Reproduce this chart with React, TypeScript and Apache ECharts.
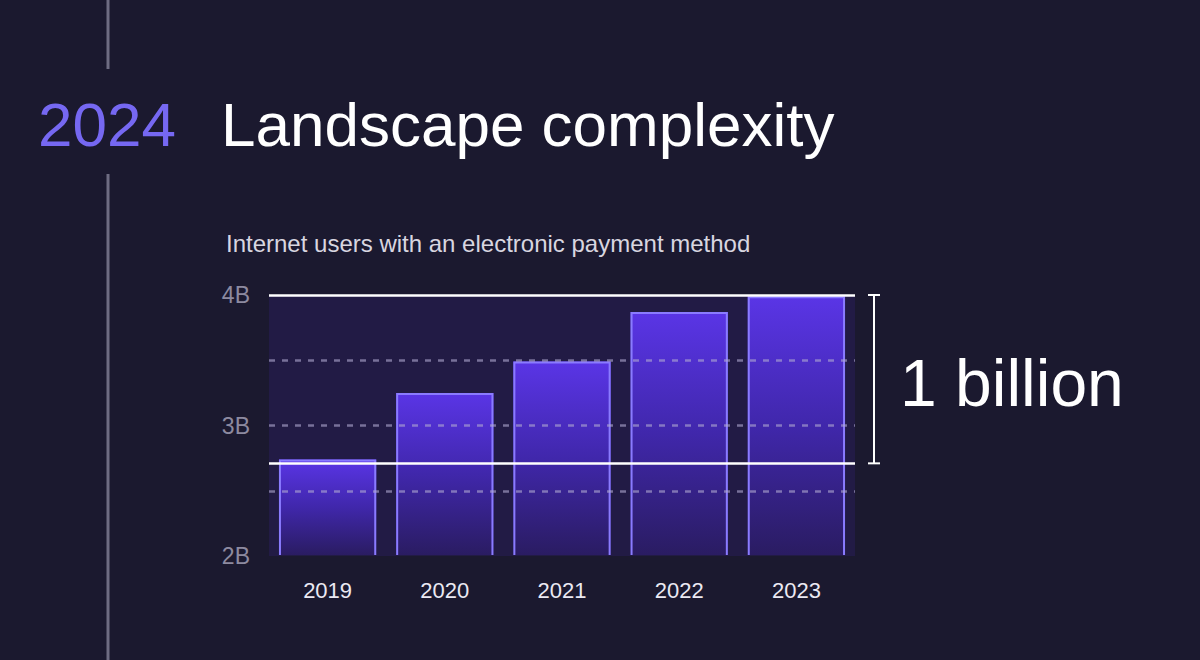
import React, { useEffect, useRef } from "react";
import * as echarts from "echarts";

const years = ["2019", "2020", "2021", "2022", "2023"];
const users = [2.74, 3.25, 3.49, 3.87, 3.99]; // billions
const yMin = 2;
const yMax = 4;
const yStep = 1;
const dashedLevels = [2.5, 3, 3.5];
const bracketLow = 2.71;
const bracketHigh = 4;
const bracketLabel = "1 billion";
const subtitle = "Internet users with an electronic payment method";
const yearLabel = "2024";
const title = "Landscape complexity";

const FONT = "'Liberation Sans', Arial, 'DejaVu Sans', sans-serif";

export default function App() {
  const ref = useRef<HTMLDivElement>(null);
  useEffect(() => {
    const chart = echarts.init(ref.current!, null, { renderer: "svg" });
    const renderItem = (params: any, api: any) => {
      const i = api.value(0);
      const v = api.value(1);
      const top = api.coord([i, v]);
      const base = api.coord([i, yMin]);
      const w = api.size([1, 0])[0] * 0.83;
      const x0 = top[0] - w / 2;
      const x1 = top[0] + w / 2;
      const y0 = top[1];
      const y1 = base[1] - 1;
      return {
        type: "group",
        children: [
          {
            type: "rect",
            shape: { x: x0, y: y0, width: w, height: y1 - y0 },
            style: {
              fill: new echarts.graphic.LinearGradient(0, 0, 0, 1, [
                { offset: 0, color: "#5a35e6" },
                { offset: 0.5, color: "#4027ab" },
                { offset: 1, color: "#2a1c62" },
              ]),
            },
          },
          {
            type: "polyline",
            shape: {
              points: [
                [x0 + 1, y1],
                [x0 + 1, y0 + 1],
                [x1 - 1, y0 + 1],
                [x1 - 1, y1],
              ],
            },
            style: { stroke: "#8a7bff", lineWidth: 2, fill: null },
          },
        ],
      };
    };

    const dashStyle = { type: [6, 7], color: "rgba(178,172,210,0.6)", width: 2.5 };
    const whiteStyle = { type: "solid", color: "#ffffff", width: 2.5 };

    chart.setOption({
      animation: false,
      backgroundColor: "#1b192f",
      grid: {
        left: 269,
        right: 345,
        top: 295,
        bottom: 104,
        show: true,
        backgroundColor: "#221b45",
        borderWidth: 0,
      },
      xAxis: {
        type: "category",
        data: years,
        axisLine: { show: false },
        axisTick: { show: false },
        axisLabel: { color: "#ebe9f3", fontSize: 22, fontFamily: FONT, margin: 23 },
      },
      yAxis: {
        type: "value",
        min: yMin,
        max: yMax,
        interval: yStep,
        splitLine: { show: false },
        axisLine: { show: false },
        axisTick: { show: false },
        axisLabel: {
          formatter: (v: number) => v + "B",
          color: "#8d8aa0",
          fontSize: 23,
          fontFamily: FONT,
          margin: 19,
        },
      },
      series: [
        {
          type: "custom",
          data: users.map((v, i) => [i, v]),
          encode: { x: 0, y: 1 },
          renderItem,
          z: 2,
        },
        {
          type: "line",
          data: [],
          z: 5,
          markLine: {
            silent: true,
            symbol: ["none", "none"],
            label: { show: false },
            data: [
              ...dashedLevels.map((y) => ({ yAxis: y, lineStyle: dashStyle })),
              { yAxis: bracketHigh, lineStyle: whiteStyle },
              { yAxis: bracketLow, lineStyle: whiteStyle },
            ],
          },
        },
      ],
    });

    const yHi = chart.convertToPixel({ yAxisIndex: 0 }, bracketHigh) as number;
    const yLo = chart.convertToPixel({ yAxisIndex: 0 }, bracketLow) as number;
    const bx = 874;
    const lineColor = "#6e6c82";

    chart.setOption({
      graphic: [
        { type: "line", shape: { x1: 108, y1: 0, x2: 108, y2: 69 }, style: { stroke: lineColor, lineWidth: 3 } },
        { type: "line", shape: { x1: 108, y1: 174, x2: 108, y2: 660 }, style: { stroke: lineColor, lineWidth: 3 } },
        {
          type: "text",
          style: { text: yearLabel, x: 38, y: 124, verticalAlign: "middle", fill: "#7668f2", font: `400 62px ${FONT}` },
        },
        {
          type: "text",
          style: { text: title, x: 221, y: 124, verticalAlign: "middle", fill: "#ffffff", font: `400 62px ${FONT}` },
        },
        {
          type: "text",
          style: { text: subtitle, x: 226, y: 243, verticalAlign: "middle", fill: "#d8d6e0", font: `400 24px ${FONT}` },
        },
        { type: "line", shape: { x1: bx, y1: yHi, x2: bx, y2: yLo }, style: { stroke: "#ffffff", lineWidth: 2 } },
        { type: "line", shape: { x1: bx - 6, y1: yHi, x2: bx + 6, y2: yHi }, style: { stroke: "#ffffff", lineWidth: 2 } },
        { type: "line", shape: { x1: bx - 6, y1: yLo, x2: bx + 6, y2: yLo }, style: { stroke: "#ffffff", lineWidth: 2 } },
        {
          type: "text",
          style: {
            text: bracketLabel,
            x: 900,
            y: (yHi + yLo) / 2 + 4,
            verticalAlign: "middle",
            fill: "#ffffff",
            font: `400 66px ${FONT}`,
          },
        },
      ],
    });

    return () => chart.dispose();
  }, []);
  return <div ref={ref} style={{ width: 1200, height: 660, position: "fixed", left: 0, top: 0 }} />;
}
